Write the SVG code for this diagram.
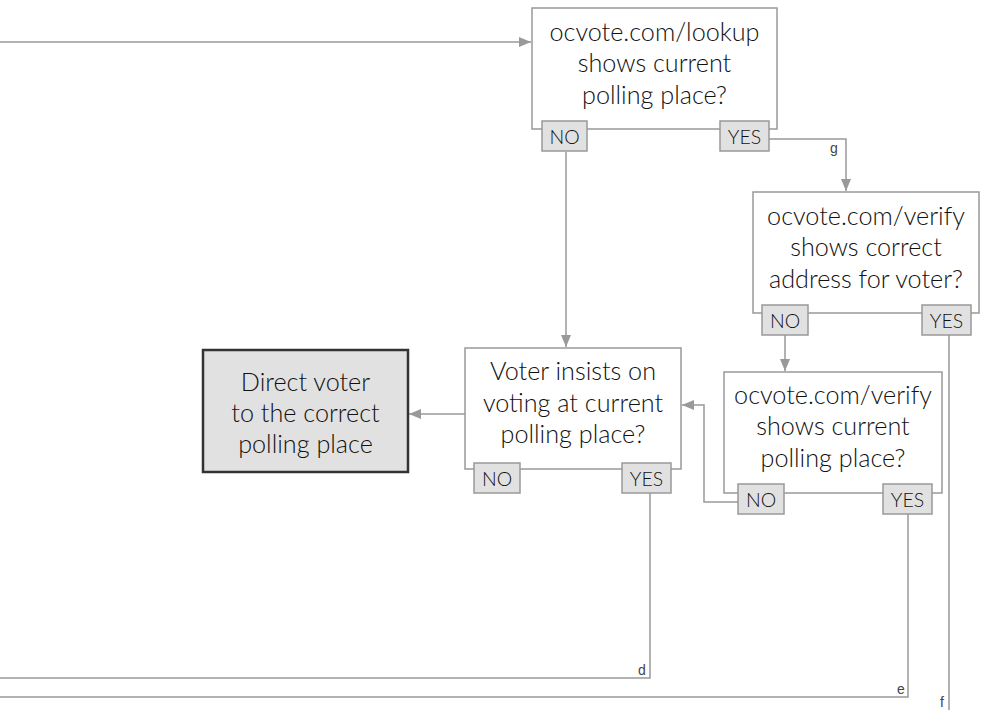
<svg xmlns="http://www.w3.org/2000/svg" width="983" height="710" viewBox="0 0 983 710">
<style>
.box{fill:#fff;stroke:#999;stroke-width:1.5}
.term{fill:#e1e1e1;stroke:#333;stroke-width:2.5}
.lbl{fill:#e1e1e1;stroke:#999;stroke-width:1.5}
.t{font-family:Lato,"Noto Sans",sans-serif;font-weight:300;font-size:25.2px;fill:#111;text-anchor:middle}
.lt{font-family:Lato,"Noto Sans",sans-serif;font-weight:300;font-size:19.5px;fill:#111;text-anchor:middle}
.c{fill:none;stroke:#999;stroke-width:1.5}
.s{font-family:"Liberation Sans",Arial,sans-serif;font-size:14px;fill:#444;text-anchor:middle}
</style>
<defs>
<marker id="ah" viewBox="0 0 12 10" refX="12" refY="5" markerWidth="12" markerHeight="10" markerUnits="userSpaceOnUse" orient="auto">
<path d="M0,0 L12,5 L0,10 Z" fill="#999"/>
</marker>
</defs>
<g id="connectors">
<path class="c" d="M0,42 H531" marker-end="url(#ah)"/>
<path class="c" d="M566,152 V347" marker-end="url(#ah)"/>
<path class="c" d="M769,139 H846 V191" marker-end="url(#ah)"/>
<path class="c" d="M785,335 V371" marker-end="url(#ah)"/>
<path class="c" d="M949,335 V710"/>
<path class="c" d="M738,502 H704 V405 H682" marker-end="url(#ah)"/>
<path class="c" d="M465,414 H409" marker-end="url(#ah)"/>
<path class="c" d="M650,493 V678 H0"/>
<path class="c" d="M908,514 V697 H0"/>
<text class="s" x="834" y="153">g</text>
<text class="s" x="642" y="675">d</text>
<text class="s" x="901" y="694">e</text>
<text class="s" x="942" y="707">f</text>
</g>
<g id="lookup">
<rect class="box" x="532" y="8" width="245" height="121"/>
<text class="t" x="654.5" y="41">ocvote.com/lookup</text>
<text class="t" x="654.5" y="72">shows current</text>
<text class="t" x="654.5" y="104">polling place?</text>
<rect class="lbl" x="542" y="121" width="45" height="30"/>
<text class="lt" x="564.5" y="143.5">NO</text>
<rect class="lbl" x="720" y="121" width="49" height="30"/>
<text class="lt" x="744.5" y="143.5">YES</text>
</g>
<g id="verify-address">
<rect class="box" x="753" y="192" width="226" height="121"/>
<text class="t" x="866" y="225">ocvote.com/verify</text>
<text class="t" x="866" y="256">shows correct</text>
<text class="t" x="866" y="288">address for voter?</text>
<rect class="lbl" x="762" y="305" width="46" height="30"/>
<text class="lt" x="785" y="327.5">NO</text>
<rect class="lbl" x="922" y="305" width="49" height="30"/>
<text class="lt" x="946.5" y="327.5">YES</text>
</g>
<g id="voter-insists">
<rect class="box" x="465" y="348" width="216" height="121"/>
<text class="t" x="573" y="380">Voter insists on</text>
<text class="t" x="573" y="412">voting at current</text>
<text class="t" x="573" y="443">polling place?</text>
<rect class="lbl" x="474" y="463" width="46" height="30"/>
<text class="lt" x="497" y="485.5">NO</text>
<rect class="lbl" x="622" y="463" width="49" height="30"/>
<text class="lt" x="646.5" y="485.5">YES</text>
</g>
<g id="verify-polling">
<rect class="box" x="724" y="372" width="218" height="121"/>
<text class="t" x="833" y="404">ocvote.com/verify</text>
<text class="t" x="833" y="435">shows current</text>
<text class="t" x="833" y="467">polling place?</text>
<rect class="lbl" x="738" y="484" width="46" height="30"/>
<text class="lt" x="761" y="506.5">NO</text>
<rect class="lbl" x="883" y="484" width="49" height="30"/>
<text class="lt" x="907.5" y="506.5">YES</text>
</g>
<g id="direct-voter">
<rect class="term" x="203" y="350" width="205" height="122"/>
<text class="t" x="305.5" y="391">Direct voter</text>
<text class="t" x="305.5" y="422">to the correct</text>
<text class="t" x="305.5" y="453">polling place</text>
</g>
</svg>
